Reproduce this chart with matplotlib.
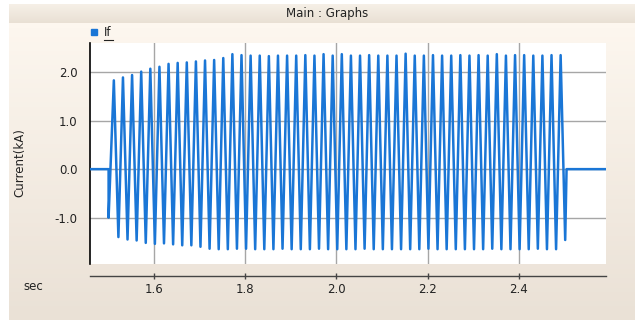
import numpy as np
import matplotlib
matplotlib.use("Agg")
from matplotlib import pyplot as plt
from matplotlib.lines import Line2D
from matplotlib.patches import Rectangle

# ---- data ------------------------------------------------------------
x_ticks = [1.6, 1.8, 2.0, 2.2, 2.4]
y_ticks = [-1.0, 0.0, 1.0, 2.0]

fault_start = 1.5005      # sec, current leaves zero
fault_end = 2.505         # sec, current back to zero
first_peak = 1.512        # sec
period = 0.02             # 50 Hz
step_value = -1.0         # first dip at fault start

peak_vals = [1.83, 1.89, 1.94, 2.01, 2.07, 2.11, 2.17, 2.19, 2.20, 2.22,
             2.24, 2.25, 2.29, 2.37, 2.35, 2.34, 2.34, 2.33, 2.34, 2.34,
             2.34, 2.35, 2.34, 2.37, 2.34, 2.37, 2.34, 2.34, 2.35, 2.34,
             2.34, 2.34, 2.38, 2.34, 2.34, 2.35, 2.34, 2.34, 2.35, 2.34,
             2.35, 2.34, 2.37, 2.34, 2.35, 2.35, 2.34, 2.34, 2.35, 2.35]
trough_vals = [-1.40, -1.45, -1.47, -1.52, -1.54, -1.53, -1.55, -1.57, -1.57, -1.60,
               -1.64, -1.65, -1.65, -1.64, -1.64, -1.65, -1.65, -1.65, -1.64, -1.65,
               -1.65, -1.65, -1.64, -1.65, -1.65, -1.65, -1.65, -1.64, -1.65, -1.65,
               -1.65, -1.65, -1.65, -1.65, -1.64, -1.65, -1.65, -1.65, -1.65, -1.65,
               -1.65, -1.64, -1.65, -1.65, -1.65, -1.65, -1.64, -1.65, -1.65, -1.46]

x_min, x_max = 1.4597, 2.5915
y_min, y_max = -1.955, 2.60

BLUE = "#1a76d6"

# ---- build the trace --------------------------------------------------
n = len(peak_vals)
peak_t = first_peak + period * np.arange(n)
trough_t = peak_t + period / 2

t = [x_min, fault_start, fault_start]
v = [0.0, 0.0, step_value]
for k in range(n):
    t += [peak_t[k], trough_t[k]]
    v += [peak_vals[k], trough_vals[k]]
t += [fault_end, x_max]
v += [0.0, 0.0]

# ---- figure -----------------------------------------------------------
W, H = 635, 321
fig = plt.figure(figsize=(W / 100, H / 100), dpi=100)
fig.patch.set_facecolor("white")

# window panel background
bg = fig.add_axes([0, 0, 1, 1], zorder=-10)
bg.set_xlim(0, W)
bg.set_ylim(H, 0)
bg.axis("off")


def vgrad(c_top, c_bot, n=64):
    a = np.array(matplotlib.colors.to_rgb(c_top))
    b = np.array(matplotlib.colors.to_rgb(c_bot))
    s = np.linspace(0, 1, n)[:, None]
    return (a * (1 - s) + b * s)[:, None, :]


bg.imshow(vgrad("#fdf7ef", "#eae1d6"), extent=[9, W, 320, 23], aspect="auto")
bg.imshow(vgrad("#f6f0e7", "#e9e0d4"), extent=[9, W, 23, 4], aspect="auto")
bg.text(327, 14, "Main : Graphs", ha="center", va="center", fontsize=8.5, color="#222222")

# plot area
ax = fig.add_axes([90 / W, (H - 264) / H, 516 / W, 221 / H])
ax.set_facecolor("white")
ax.plot(t, v, color=BLUE, lw=1.8, solid_joinstyle="round", zorder=3)

ax.set_xlim(x_min, x_max)
ax.set_ylim(y_min, y_max)
ax.set_xticks(x_ticks)
ax.set_xticklabels([f"{x:.1f}" for x in x_ticks])
ax.set_yticks(y_ticks)
ax.set_yticklabels([f"{y:.1f}" for y in y_ticks])
ax.grid(True, color="#a6a6a6", lw=1.0)
ax.set_axisbelow(True)

for s in ["top", "right"]:
    ax.spines[s].set_visible(False)
ax.spines["left"].set_color("black")
ax.spines["left"].set_linewidth(1.2)
ax.spines["bottom"].set_position(("outward", 8.3))
ax.spines["bottom"].set_color("#444444")
ax.spines["bottom"].set_linewidth(1.0)

ax.tick_params(axis="x", direction="inout", length=4.5, width=1, color="#444444",
               labelsize=8.5, pad=3, labelcolor="#222222")
ax.tick_params(axis="y", length=0, labelsize=8.5, pad=9, labelcolor="#222222")

# axis captions
bg.text(33, 287, "sec", ha="center", va="center", fontsize=8.5, color="#222222")
bg.text(20, 163, "Current(kA)", ha="center", va="center", rotation=90,
        fontsize=8.5, color="#222222")

# legend
bg.add_patch(Rectangle((90.5, 29), 6, 6, color=BLUE))
bg.text(104, 33, "If", ha="left", va="center", fontsize=8.5, color="#222222")
bg.add_line(Line2D([104, 113], [40, 40], color="#222222", lw=0.8))

fig.savefig("out.png", dpi=100)
